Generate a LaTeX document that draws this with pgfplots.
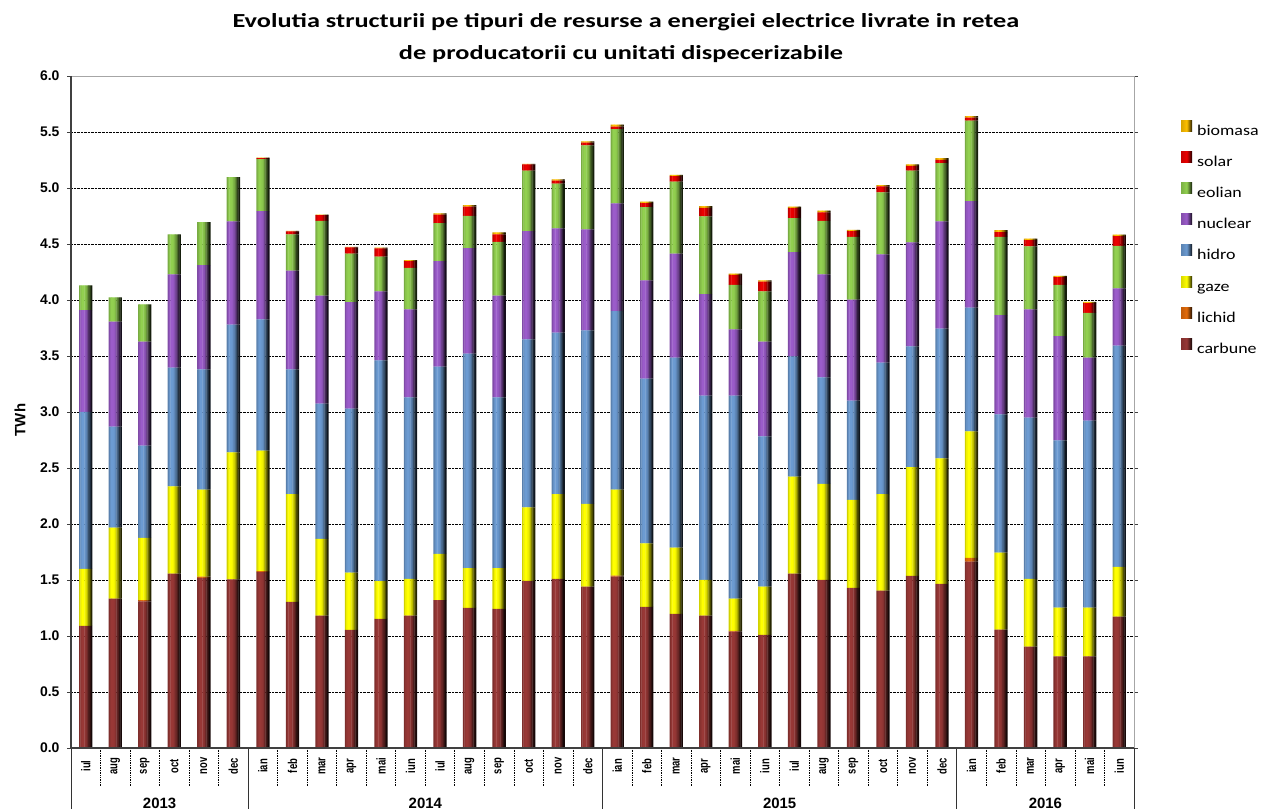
\documentclass[border=0pt]{standalone}
\usepackage{fontspec}
\setmainfont{Carlito}
\newfontfamily\arial{Liberation Sans}
\usepackage{graphicx}
\usepackage{pgfplots}
\pgfplotsset{compat=1.18}
\usepackage{pgfplotstable}

\definecolor{ccarb}{RGB}{152,56,54}
\definecolor{clich}{RGB}{228,108,10}
\definecolor{cgaze}{RGB}{255,255,0}
\definecolor{chidr}{RGB}{108,155,210}
\definecolor{cnucl}{RGB}{155,92,202}
\definecolor{ceol}{RGB}{146,208,80}
\definecolor{csol}{RGB}{235,0,0}
\definecolor{cbio}{RGB}{255,192,0}

\pgfplotsset{
  common/.style={at={(71bp,61bp)}, anchor=south west, scale only axis,
    width=1063bp, height=672bp, xmin=-0.5, xmax=35.5, ymin=0, ymax=6},
  legsq/.style={draw=none, left color=#1!85!black, right color=#1!12!black, middle color=#1},
  sl/.style={draw=none, fill=#1!\f!black, bar width=1.6bp, bar shift=\s},
}

\pgfplotstableread{
i carbune lichid gaze hidro nuclear eolian solar biomasa
0 1.09 0 0.51 1.40 0.91 0.22 0 0
1 1.333 0 0.635 0.902 0.938 0.216 0 0
2 1.31 0.01 0.556 0.823 0.93 0.331 0 0
3 1.557 0 0.778 1.062 0.831 0.359 0 0
4 1.52 0.01 0.777 1.074 0.93 0.384 0 0
5 1.505 0 1.134 1.141 0.923 0.395 0 0
6 1.57 0.01 1.075 1.173 0.966 0.463 0.01 0.005
7 1.305 0 0.962 1.114 0.882 0.324 0.025 0.005
8 1.182 0 0.686 1.206 0.966 0.667 0.05 0.005
9 1.054 0 0.511 1.465 0.95 0.435 0.055 0.005
10 1.154 0 0.335 1.972 0.615 0.311 0.075 0.005
11 1.182 0 0.327 1.621 0.786 0.371 0.06 0.01
12 1.321 0 0.412 1.672 0.942 0.34 0.075 0.012
13 1.25 0 0.355 1.916 0.942 0.287 0.084 0.012
14 1.242 0 0.363 1.525 0.91 0.479 0.068 0.016
15 1.493 0 0.655 1.501 0.966 0.539 0.056 0.005
16 1.509 0 0.758 1.442 0.93 0.399 0.028 0.012
17 1.441 0 0.739 1.549 0.902 0.75 0.024 0.012
18 1.53 0.008 0.769 1.593 0.962 0.663 0.024 0.016
19 1.261 0 0.567 1.469 0.879 0.654 0.036 0.012
20 1.198 0 0.59 1.697 0.93 0.643 0.048 0.012
21 1.182 0 0.319 1.645 0.906 0.695 0.076 0.015
22 1.04 0.006 0.287 1.813 0.591 0.399 0.088 0.012
23 1.01 0 0.431 1.341 0.847 0.447 0.088 0.012
24 1.557 0 0.866 1.074 0.93 0.304 0.092 0.011
25 1.501 0 0.858 0.95 0.919 0.479 0.076 0.015
26 1.429 0 0.787 0.886 0.902 0.559 0.052 0.012
27 1.405 0 0.862 1.174 0.966 0.555 0.052 0.012
28 1.537 0 0.97 1.078 0.93 0.639 0.044 0.012
29 1.465 0 1.122 1.158 0.958 0.519 0.028 0.016
30 1.665 0.032 1.129 1.106 0.95 0.719 0.028 0.012
31 1.058 0 0.687 1.233 0.886 0.699 0.044 0.016
32 0.906 0 0.603 1.441 0.966 0.563 0.056 0.012
33 0.818 0 0.435 1.494 0.93 0.459 0.068 0.012
34 0.818 0 0.435 1.669 0.563 0.399 0.088 0.012
35 1.174 0 0.443 1.976 0.511 0.379 0.088 0.012
}\data

\newcommand{\lgx}[1]{\scalebox{1.2}[1]{#1}}

\begin{document}
\begin{tikzpicture}
\useasboundingbox (0,0) rectangle (1261bp,809bp);
\node[font=\fontsize{20}{24}\bfseries\selectfont, xscale=1.32, anchor=base, inner sep=0pt] at (626bp,781bp) {Evolutia structurii pe tipuri de resurse a energiei electrice livrate in retea};
\node[font=\fontsize{20}{24}\bfseries\selectfont, xscale=1.32, anchor=base, inner sep=0pt] at (621bp,749bp) {de producatorii cu unitati dispecerizabile};
\node[font=\arial\bfseries\fontsize{15}{15}\selectfont, rotate=90, inner sep=0pt] at (20bp,389bp) {TWh};
% frame, grid, ticks, labels, legend
\begin{axis}[
  common,
  clip=false,
  xtick={0,...,35},
  xticklabels={iul,aug,sep,oct,nov,dec,ian,feb,mar,apr,mai,iun,iul,aug,sep,oct,nov,dec,ian,feb,mar,apr,mai,iun,iul,aug,sep,oct,nov,dec,ian,feb,mar,apr,mai,iun},
  xtick style={draw=none},
  xticklabel style={font=\arial\bfseries\fontsize{9.5}{9.5}\selectfont, anchor=center, yshift=-18bp, rotate=90, yscale=1.35},
  ytick={0,0.5,...,6},
  ytick align=outside, major tick length=4bp,
  ytick style={black!75, line width=0.8bp},
  yticklabel style={font=\arial\bfseries\fontsize{14}{14}\selectfont, xshift=-4bp, /pgf/number format/.cd, fixed, fixed zerofill, precision=1, assume math mode=true},
  ymajorgrids, major grid style={densely dotted, black, line width=0.6bp},
  axis line style={draw=gray!70, line width=0.9bp},
  legend image code/.code={\path[#1] (0bp,0bp) rectangle (11bp,11bp);},
  legend style={at={(axis description cs:1.0414,0.9375)}, anchor=north west, draw=none, fill=none, font=\fontsize{15}{15}\selectfont, row sep=13.2bp, column sep=5bp, nodes={inner sep=0pt, text height=11bp, text depth=3bp}},
  legend cell align=left,
]
\addlegendimage{legsq=cbio}
\addlegendimage{legsq=csol}
\addlegendimage{legsq=ceol}
\addlegendimage{legsq=cnucl}
\addlegendimage{legsq=chidr}
\addlegendimage{legsq=cgaze}
\addlegendimage{legsq=clich}
\addlegendimage{legsq=ccarb}
\legend{\lgx{biomasa},\lgx{solar},\lgx{eolian},\lgx{nuclear},\lgx{hidro},\lgx{gaze},\lgx{lichid},\lgx{carbune}}
\pgfplotsinvokeforeach{-0.5,0.5,...,35.5}{\draw[black, densely dotted, line width=0.7bp] (axis cs:#1,0) -- ++(0bp,-38bp);}
\pgfplotsinvokeforeach{-0.5,5.5,17.5,29.5,35.5}{\draw[black!80, line width=0.7bp] (axis cs:#1,0) -- ++(0bp,-62bp);}
\node[font=\arial\bfseries\fontsize{15}{15}\selectfont] at ([yshift=-55bp]axis cs:2.5,0) {2013};
\node[font=\arial\bfseries\fontsize{15}{15}\selectfont] at ([yshift=-55bp]axis cs:11.5,0) {2014};
\node[font=\arial\bfseries\fontsize{15}{15}\selectfont] at ([yshift=-55bp]axis cs:23.5,0) {2015};
\node[font=\arial\bfseries\fontsize{15}{15}\selectfont] at ([yshift=-55bp]axis cs:32.5,0) {2016};
\end{axis}
% bars, drawn as vertical slices to give each bar its left-to-right shading
\foreach \s/\f in {-5.85bp/82,-4.55bp/94,-3.25bp/100,-1.95bp/100,-0.65bp/96,0.65bp/88,1.95bp/72,3.25bp/52,4.55bp/32,5.85bp/15}{
\begin{axis}[common, hide axis, ybar stacked]
\addplot[sl=ccarb] table[x=i, y=carbune] {\data};
\addplot[sl=clich] table[x=i, y=lichid] {\data};
\addplot[sl=cgaze] table[x=i, y=gaze] {\data};
\addplot[sl=chidr] table[x=i, y=hidro] {\data};
\addplot[sl=cnucl] table[x=i, y=nuclear] {\data};
\addplot[sl=ceol] table[x=i, y=eolian] {\data};
\addplot[sl=csol] table[x=i, y=solar] {\data};
\addplot[sl=cbio] table[x=i, y=biomasa] {\data};
\end{axis}
}
% dark left and bottom axis lines on top
\begin{axis}[common, hide axis, clip=false]
\draw[black!75, line width=1.3bp] (rel axis cs:0,1) -- (rel axis cs:0,0) -- (rel axis cs:1,0);
\end{axis}
\end{tikzpicture}
\end{document}
